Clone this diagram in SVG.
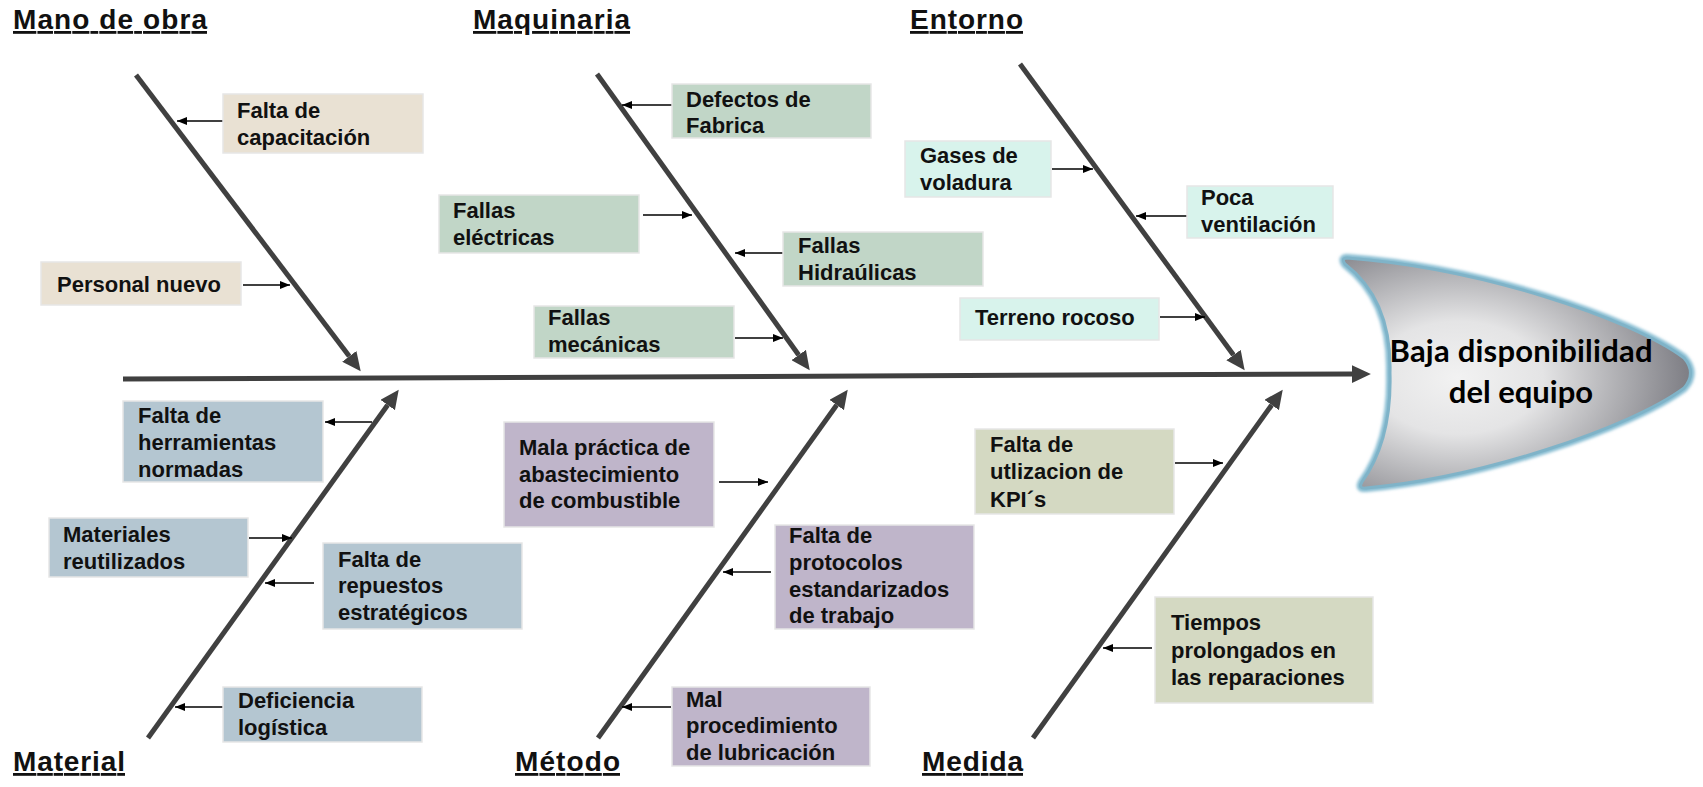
<svg xmlns="http://www.w3.org/2000/svg" width="1703" height="787" viewBox="0 0 1703 787">
<style>
.t{font-family:"Liberation Sans",Arial,sans-serif;font-weight:bold;font-size:22px;fill:#111}
.title{font-family:"Liberation Sans",Arial,sans-serif;font-weight:bold;font-size:28px;fill:#111;text-decoration:underline}
.box{stroke:#e6e6e6;stroke-width:1.5}
.mo{fill:#e9e1d3}.mq{fill:#c1d6c7}.en{fill:#d8f3ec}.ma{fill:#b4c6d1}.me{fill:#bfb5ca}.md{fill:#d4d9c2}
.bone{stroke:#404040;stroke-width:5;fill:none;marker-end:url(#big)}
.sm{stroke:#000;stroke-width:1.6;fill:none;marker-end:url(#small)}
.head{font-family:Lato,"Open Sans",sans-serif;font-weight:bold;font-size:31px;fill:#000}
</style>
<defs>
<marker id="big" markerUnits="userSpaceOnUse" markerWidth="20" markerHeight="18" refX="0" refY="8" orient="auto" viewBox="0 0 18 16">
<path d="M0,0 L17,8 L0,16 z" fill="#404040"/>
</marker>
<marker id="small" markerUnits="userSpaceOnUse" markerWidth="11" markerHeight="9" refX="10" refY="4" orient="auto" viewBox="0 0 11 8">
<path d="M0,0 L10,4 L0,8 z" fill="#000"/>
</marker>
<radialGradient id="hg" cx="0.33" cy="0.52" r="0.7" fx="0.33" fy="0.52">
<stop offset="0" stop-color="#f2f2f2"/>
<stop offset="0.35" stop-color="#e4e4e5"/>
<stop offset="0.7" stop-color="#a9a9ad"/>
<stop offset="1" stop-color="#76767d"/>
</radialGradient>
<filter id="glow" x="-10%" y="-10%" width="120%" height="120%">
<feGaussianBlur stdDeviation="1.4"/>
</filter>
<path id="hp" d="M1347,258 C1480,268 1630,318 1684,358 Q1697,373 1684,388 C1630,428 1480,478 1366,488 Q1358,489 1362,482 Q1392,440 1390,373 Q1392,300 1345,264 Q1341,258 1347,258 Z"/>
</defs>
<rect width="1703" height="787" fill="#fff"/>

<g id="titles">
<text class="title" x="13" y="29" textLength="194">Mano de obra</text>
<text class="title" x="473" y="29" textLength="157">Maquinaria</text>
<text class="title" x="910" y="29" textLength="113">Entorno</text>
<text class="title" x="13" y="771" textLength="112">Material</text>
<text class="title" x="515" y="771" textLength="105">Método</text>
<text class="title" x="922" y="771" textLength="101">Medida</text>
</g>

<g id="connectors">
<line class="bone" x1="123" y1="379" x2="1352" y2="374"/>
<line class="bone" x1="136" y1="75" x2="349.3" y2="356.3"/>
<line class="bone" x1="597" y1="74" x2="798.7" y2="355"/>
<line class="bone" x1="1020" y1="64" x2="1233.5" y2="355.1"/>
<line class="bone" x1="148" y1="738" x2="387.7" y2="405"/>
<line class="bone" x1="598" y1="738" x2="836.7" y2="405"/>
<line class="bone" x1="1033" y1="738" x2="1271.7" y2="405"/>
<line class="sm" x1="223" y1="121" x2="177" y2="121"/>
<line class="sm" x1="243" y1="285" x2="290" y2="285"/>
<line class="sm" x1="672" y1="105" x2="622" y2="105"/>
<line class="sm" x1="643" y1="215" x2="692" y2="215"/>
<line class="sm" x1="783" y1="253" x2="735" y2="253"/>
<line class="sm" x1="735" y1="338" x2="783" y2="338"/>
<line class="sm" x1="1052" y1="169" x2="1093" y2="169"/>
<line class="sm" x1="1187" y1="216" x2="1136" y2="216"/>
<line class="sm" x1="1160" y1="317" x2="1205" y2="317"/>
<line class="sm" x1="372" y1="422" x2="325" y2="422"/>
<line class="sm" x1="249" y1="538" x2="292" y2="538"/>
<line class="sm" x1="314" y1="583" x2="265" y2="583"/>
<line class="sm" x1="223" y1="707" x2="175" y2="707"/>
<line class="sm" x1="719" y1="482" x2="768" y2="482"/>
<line class="sm" x1="771" y1="572" x2="723" y2="572"/>
<line class="sm" x1="671" y1="707" x2="622" y2="707"/>
<line class="sm" x1="1175" y1="463" x2="1223" y2="463"/>
<line class="sm" x1="1152" y1="648" x2="1103" y2="648"/>
</g>

<g id="falta-capacitacion"><rect class="box mo" x="223" y="94" width="200" height="59"/><text class="t" x="237" y="118">Falta de</text><text class="t" x="237" y="145">capacitación</text></g>
<g id="personal-nuevo"><rect class="box mo" x="41" y="262" width="200" height="43"/><text class="t" x="57" y="292">Personal nuevo</text></g>

<g id="defectos-fabrica"><rect class="box mq" x="672" y="84" width="199" height="54"/><text class="t" x="686" y="107">Defectos de</text><text class="t" x="686" y="133">Fabrica</text></g>
<g id="fallas-electricas"><rect class="box mq" x="439" y="195" width="200" height="58"/><text class="t" x="453" y="218">Fallas</text><text class="t" x="453" y="245">eléctricas</text></g>
<g id="fallas-hidraulicas"><rect class="box mq" x="783" y="232" width="200" height="54"/><text class="t" x="798" y="253">Fallas</text><text class="t" x="798" y="280">Hidraúlicas</text></g>
<g id="fallas-mecanicas"><rect class="box mq" x="534" y="306" width="200" height="52"/><text class="t" x="548" y="325">Fallas</text><text class="t" x="548" y="352">mecánicas</text></g>

<g id="gases-voladura"><rect class="box en" x="905" y="141" width="146" height="56"/><text class="t" x="920" y="163">Gases de</text><text class="t" x="920" y="190">voladura</text></g>
<g id="poca-ventilacion"><rect class="box en" x="1187" y="186" width="146" height="52"/><text class="t" x="1201" y="205">Poca</text><text class="t" x="1201" y="232">ventilación</text></g>
<g id="terreno-rocoso"><rect class="box en" x="960" y="298" width="199" height="42"/><text class="t" x="975" y="325">Terreno rocoso</text></g>

<g id="herramientas-normadas"><rect class="box ma" x="123" y="401" width="200" height="81"/><text class="t" x="138" y="423">Falta de</text><text class="t" x="138" y="450">herramientas</text><text class="t" x="138" y="477">normadas</text></g>
<g id="materiales-reutilizados"><rect class="box ma" x="49" y="518" width="199" height="59"/><text class="t" x="63" y="542">Materiales</text><text class="t" x="63" y="569">reutilizados</text></g>
<g id="repuestos-estrategicos"><rect class="box ma" x="323" y="543" width="199" height="86"/><text class="t" x="338" y="567">Falta de</text><text class="t" x="338" y="593">repuestos</text><text class="t" x="338" y="620">estratégicos</text></g>
<g id="deficiencia-logistica"><rect class="box ma" x="223" y="687" width="199" height="55"/><text class="t" x="238" y="708">Deficiencia</text><text class="t" x="238" y="735">logística</text></g>

<g id="mala-practica"><rect class="box me" x="504" y="422" width="210" height="105"/><text class="t" x="519" y="455">Mala práctica de</text><text class="t" x="519" y="482">abastecimiento</text><text class="t" x="519" y="508">de combustible</text></g>
<g id="falta-protocolos"><rect class="box me" x="775" y="525" width="199" height="104"/><text class="t" x="789" y="543">Falta de</text><text class="t" x="789" y="570">protocolos</text><text class="t" x="789" y="597">estandarizados</text><text class="t" x="789" y="623">de trabajo</text></g>
<g id="mal-procedimiento"><rect class="box me" x="672" y="687" width="198" height="79"/><text class="t" x="686" y="707">Mal</text><text class="t" x="686" y="733">procedimiento</text><text class="t" x="686" y="760">de lubricación</text></g>

<g id="falta-kpi"><rect class="box md" x="975" y="429" width="199" height="85"/><text class="t" x="990" y="452">Falta de</text><text class="t" x="990" y="479">utlizacion de</text><text class="t" x="990" y="507">KPI´s</text></g>
<g id="tiempos-prolongados"><rect class="box md" x="1155" y="597" width="218" height="106"/><text class="t" x="1171" y="630">Tiempos</text><text class="t" x="1171" y="658">prolongados en</text><text class="t" x="1171" y="685">las reparaciones</text></g>

<g id="efecto">
<use href="#hp" fill="none" stroke="#86bcd1" stroke-width="8" filter="url(#glow)"/>
<use href="#hp" fill="url(#hg)" stroke="#7fb3c8" stroke-width="3"/>
<text class="head" x="1521" y="362" text-anchor="middle" textLength="263">Baja disponibilidad</text>
<text class="head" x="1521" y="403" text-anchor="middle">del equipo</text>
</g>
</svg>
